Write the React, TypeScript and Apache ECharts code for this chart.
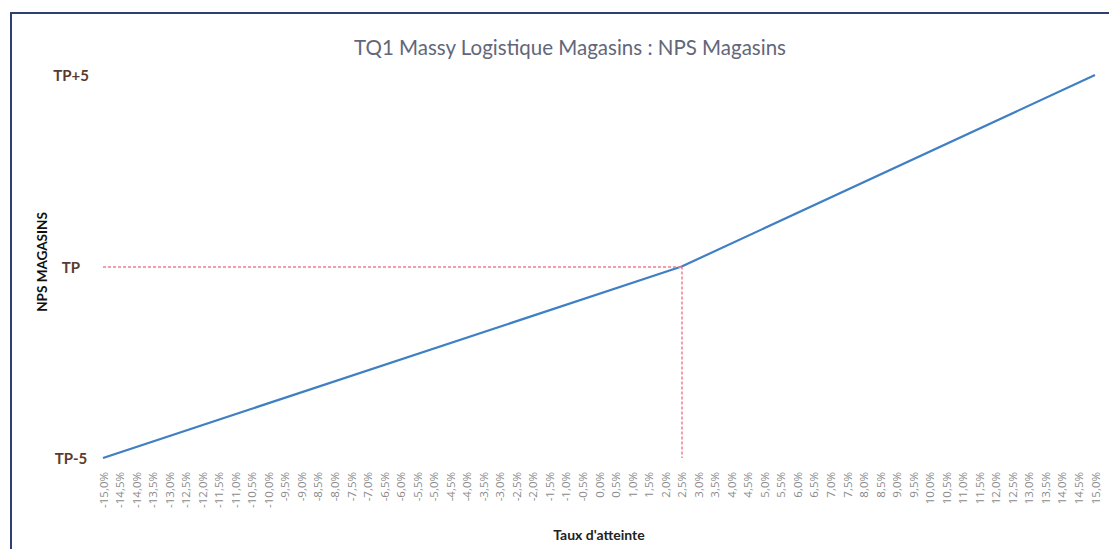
import React, { useEffect, useRef } from "react";
import * as echarts from "echarts";

const categories: string[] = [
  "-15,0%", "-14,5%", "-14,0%", "-13,5%", "-13,0%", "-12,5%", "-12,0%", "-11,5%", "-11,0%", "-10,5%",
  "-10,0%", "-9,5%", "-9,0%", "-8,5%", "-8,0%", "-7,5%", "-7,0%", "-6,5%", "-6,0%", "-5,5%",
  "-5,0%", "-4,5%", "-4,0%", "-3,5%", "-3,0%", "-2,5%", "-2,0%", "-1,5%", "-1,0%", "-0,5%",
  "0,0%", "0,5%", "1,0%", "1,5%", "2,0%", "2,5%", "3,0%", "3,5%", "4,0%", "4,5%",
  "5,0%", "5,5%", "6,0%", "6,5%", "7,0%", "7,5%", "8,0%", "8,5%", "9,0%", "9,5%",
  "10,0%", "10,5%", "11,0%", "11,5%", "12,0%", "12,5%", "13,0%", "13,5%", "14,0%", "14,5%",
  "15,0%",
];

// Key points of the curve: [taux d'atteinte, NPS offset vs TP]
const curvePoints: [string, number][] = [
  ["-15,0%", -5],
  ["2,5%", 0],
  ["15,0%", 5],
];

const targetCategory = "2,5%";
const yTickLabels: Record<string, string> = { "-5": "TP-5", "0": "TP", "5": "TP+5" };
const yAxisTitle = "NPS MAGASINS";

export default function App() {
  const ref = useRef<HTMLDivElement>(null);
  useEffect(() => {
    if (!ref.current) return;
    const chart = echarts.init(ref.current, undefined, { renderer: "svg" });
    chart.setOption({
      animation: false,
      backgroundColor: "#ffffff",
      title: {
        text: "TQ1 Massy Logistique Magasins : NPS Magasins",
        left: 565,
        top: 31,
        textAlign: "center",
        textStyle: {
          fontFamily: "Lato",
          fontSize: 20.5,
          fontWeight: "normal",
          color: "#62667a",
        },
      },
      graphic: [
        {
          type: "rect",
          shape: { x: 11, y: 13, width: 1120, height: 560 },
          style: { fill: "none", stroke: "#2e3f73", lineWidth: 2 },
          silent: true,
        },
        {
          type: "text",
          x: 42,
          y: 262,
          rotation: Math.PI / 2,
          silent: true,
          style: {
            text: yAxisTitle,
            fontFamily: "Lato",
            fontSize: 13.5,
            fontWeight: "bold",
            fill: "#111111",
            align: "center",
            verticalAlign: "middle",
          },
        },
      ],
      grid: { left: 103, right: 14, top: 75, bottom: 91, containLabel: false },
      xAxis: {
        type: "category",
        data: categories,
        boundaryGap: false,
        name: "Taux d'atteinte",
        nameLocation: "middle",
        nameGap: 69,
        nameTextStyle: { fontFamily: "Lato", fontSize: 14, fontWeight: "bold", color: "#222222" },
        axisLine: { show: false },
        axisTick: { show: false },
        splitLine: { show: false },
        axisLabel: {
          interval: 0,
          rotate: 90,
          margin: 14,
          fontFamily: "Open Sans",
          fontSize: 11.5,
          color: "#8a8a8a",
        },
      },
      yAxis: {
        type: "value",
        min: -5,
        max: 5,
        interval: 5,
        axisLine: { show: false },
        axisTick: { show: false },
        splitLine: { show: false },
        axisLabel: {
          align: "center",
          margin: 32,
          fontFamily: "Lato",
          fontSize: 15,
          fontWeight: "bold",
          color: "#5b3a2e",
          formatter: (v: number) => yTickLabels[String(v)] ?? "",
        },
      },
      series: [
        {
          type: "line",
          data: curvePoints,
          showSymbol: false,
          symbol: "none",
          lineStyle: { color: "#3f7fc4", width: 2.2 },
          markLine: {
            silent: true,
            symbol: "none",
            label: { show: false },
            lineStyle: { color: "#ef7f8e", type: [3, 2], width: 1.5 },
            data: [
              [
                { coord: [categories[0], 0] },
                { coord: [targetCategory, 0] },
              ],
              [
                { coord: [targetCategory, 0] },
                { coord: [targetCategory, -5] },
              ],
            ],
          },
        },
      ],
    });
    return () => chart.dispose();
  }, []);
  return (
    <div
      ref={ref}
      style={{ position: "fixed", left: 0, top: 0, width: 1109, height: 549 }}
    />
  );
}
